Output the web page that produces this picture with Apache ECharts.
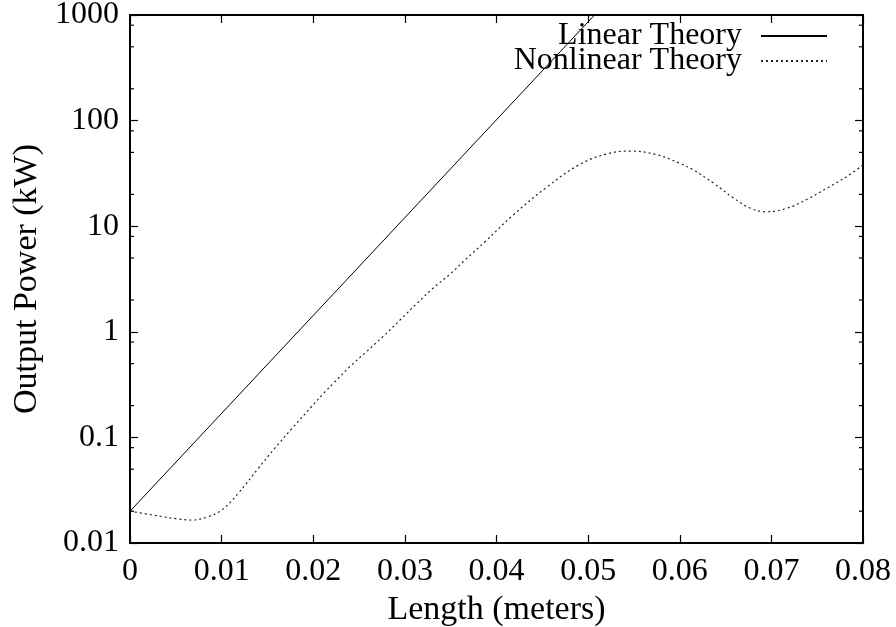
<!DOCTYPE html>
<html>
<head>
<meta charset="utf-8">
<script src="https://cdn.jsdelivr.net/npm/echarts@6/dist/echarts.min.js"></script>
<style>
  html, body { margin: 0; padding: 0; background: #fff; }
  #chart { width: 896px; height: 627px; }
</style>
</head>
<body>
<div id="chart"></div>
<script>
// Length along the interaction region (m) and output power (kW)
const linearLength = [0, 0.0507];
const linearPower = [0.02, 1000];

const nonlinearLength = [
  0, 0.0025, 0.005, 0.0068, 0.0085, 0.010, 0.0118, 0.014, 0.0158, 0.0177,
  0.0198, 0.0213, 0.0222, 0.024, 0.0258, 0.0276, 0.0295, 0.0313, 0.0331, 0.0349,
  0.0367, 0.0388, 0.0418, 0.0455, 0.0491, 0.0520, 0.0546, 0.0575, 0.0600, 0.0615,
  0.0637, 0.0659, 0.0677, 0.0695, 0.0717, 0.0739, 0.0761, 0.0782, 0.0800
];
const nonlinearPower = [
  0.020, 0.0184, 0.0170, 0.0165, 0.0177, 0.0205, 0.0295, 0.0509, 0.0789, 0.122,
  0.195, 0.271, 0.325, 0.468, 0.648, 0.90, 1.30, 1.85, 2.6, 3.5,
  4.9, 7.2, 12.7, 23.5, 38.5, 48.3, 51.5, 47.5, 39.4, 34.0,
  25.5, 18.4, 14.8, 13.7, 14.8, 18.0, 23.0, 29.4, 38.0
];

// Minor tick positions on the logarithmic power axis
const minorTicks = [0.02, 0.05, 0.08, 0.2, 0.5, 0.8, 2, 5, 8, 20, 50, 80, 200, 500, 800];

const seriesNames = ['Linear Theory', 'Nonlinear Theory'];

const FONT = 'Liberation Serif';
const zip = (xs, ys) => xs.map((x, i) => [x, ys[i]]);

const chart = echarts.init(document.getElementById('chart'), null, { renderer: 'canvas' });

const xFmt = v => (v === 0 ? '0' : v.toFixed(2));
const yFmt = v => String(+v.toPrecision(6));

const baseX = {
  type: 'value', min: 0, max: 0.08, interval: 0.01,
  axisLine: { show: true, onZero: false, lineStyle: { color: '#000', width: 2 } },
  axisTick: { show: true, inside: true, length: 8, lineStyle: { color: '#000', width: 1.2 } },
  splitLine: { show: false }
};
const baseY = {
  type: 'log', logBase: 10, min: 0.01, max: 1000,
  axisLine: { show: true, onZero: false, lineStyle: { color: '#000', width: 2 } },
  axisTick: { show: true, inside: true, length: 8, lineStyle: { color: '#000', width: 1.2 } },
  splitLine: { show: false },
  minorTick: { show: false }
};

// one legend block per key so the rows sit close together
const legendRow = (name, top) => ({
  orient: 'vertical',
  align: 'right',
  right: 63,
  top: top,
  itemWidth: 66,
  itemHeight: 12,
  itemGap: 0,
  data: [name],
  itemStyle: { opacity: 0 },
  textStyle: { fontFamily: FONT, fontSize: 32, color: '#000', padding: [0, 14, 0, 0] }
});

chart.setOption({
  animation: false,
  backgroundColor: '#fff',
  grid: { left: 130, right: 33, top: 15, bottom: 84, containLabel: false, outerBoundsMode: 'none' },
  legend: [legendRow(seriesNames[0], 15), legendRow(seriesNames[1], 40)],
  xAxis: [
    Object.assign({}, baseX, {
      position: 'bottom',
      name: 'Length (meters)',
      nameLocation: 'middle',
      nameGap: 40,
      nameTextStyle: { fontFamily: FONT, fontSize: 34, color: '#000' },
      axisLabel: { margin: 13, fontFamily: FONT, fontSize: 32, color: '#000', formatter: xFmt }
    }),
    Object.assign({}, baseX, { position: 'top', axisLabel: { show: false } })
  ],
  yAxis: [
    Object.assign({}, baseY, {
      position: 'left',
      name: 'Output Power (kW)',
      nameLocation: 'middle',
      nameGap: 80,
      nameTextStyle: { fontFamily: FONT, fontSize: 34, color: '#000' },
      axisLabel: { margin: 11, fontFamily: FONT, fontSize: 32, color: '#000', formatter: yFmt, padding: [6, 0, 0, 0] }
    }),
    Object.assign({}, baseY, { position: 'right', axisLabel: { show: false } })
  ],
  series: [
    {
      name: seriesNames[0],
      type: 'line',
      data: zip(linearLength, linearPower),
      symbol: 'none',
      lineStyle: { color: '#000', width: 1, type: 'solid' },
      itemStyle: { color: '#000' },
      clip: true,
      z: 3
    },
    {
      name: seriesNames[1],
      type: 'line',
      data: zip(nonlinearLength, nonlinearPower),
      smooth: 0.4,
      symbol: 'none',
      lineStyle: { color: '#222', width: 1.2, type: [2, 3] },
      itemStyle: { color: '#222' },
      clip: true,
      z: 3
    },
    {
      // short inward minor ticks on both vertical borders
      type: 'custom',
      silent: true,
      data: minorTicks.map(v => [v]),
      encode: { y: 0 },
      renderItem: function (params, api) {
        const v = api.value(0);
        const l = api.coord([0, v]);
        const r = api.coord([0.08, v]);
        return {
          type: 'group',
          children: [
            { type: 'line', shape: { x1: l[0], y1: l[1], x2: l[0] + 4, y2: l[1] }, style: { stroke: '#000', lineWidth: 1.2 } },
            { type: 'line', shape: { x1: r[0], y1: r[1], x2: r[0] - 4, y2: r[1] }, style: { stroke: '#000', lineWidth: 1.2 } }
          ]
        };
      },
      z: 4
    }
  ]
});
</script>
</body>
</html>
